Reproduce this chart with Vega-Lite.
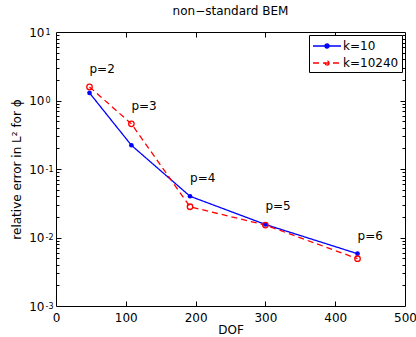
{
  "$schema": "https://vega.github.io/schema/vega-lite/v6.json",
  "width": 349,
  "height": 274,
  "autosize": {"type": "none"},
  "padding": {"left": 56, "top": 32, "right": 11, "bottom": 31},
  "background": "white",
  "config": {
    "font": "DejaVu Sans",
    "view": {"stroke": "black", "strokeWidth": 1},
    "axis": {"grid": false, "domain": false, "labelFont": "DejaVu Sans", "titleFont": "DejaVu Sans", "labelFontSize": 12, "titleFontSize": 12, "labelColor": "black", "titleColor": "black", "tickColor": "black", "titleFontWeight": "normal", "tickWidth": 1},
    "legend": {"orient": "top-right", "offset": 3, "strokeColor": "black", "fillColor": "white", "padding": 3, "labelFontSize": 12, "labelFont": "DejaVu Sans", "labelColor": "black", "symbolType": "M-1,0H3M1.3,0A0.3,0.3 0 1,1 0.7,0A0.3,0.3 0 1,1 1.3,0", "symbolSize": 196, "symbolStrokeWidth": 1.3, "labelOffset": 15, "rowPadding": 3, "cornerRadius": 0}
  },
  "title": {"text": "non−standard BEM", "fontSize": 12, "fontWeight": "normal", "font": "DejaVu Sans", "offset": 8, "color": "black"},
  "data": {"values": [
    {"k": "k=10", "p": "p=2", "DOF": 48, "err": 1.29},
    {"k": "k=10", "p": "p=3", "DOF": 108, "err": 0.222},
    {"k": "k=10", "p": "p=4", "DOF": 192, "err": 0.040},
    {"k": "k=10", "p": "p=5", "DOF": 300, "err": 0.0155},
    {"k": "k=10", "p": "p=6", "DOF": 432, "err": 0.0058},
    {"k": "k=10240", "p": "p=2", "DOF": 48, "err": 1.58},
    {"k": "k=10240", "p": "p=3", "DOF": 108, "err": 0.456},
    {"k": "k=10240", "p": "p=4", "DOF": 192, "err": 0.0281},
    {"k": "k=10240", "p": "p=5", "DOF": 300, "err": 0.0152},
    {"k": "k=10240", "p": "p=6", "DOF": 432, "err": 0.0049}
  ]},
  "layer": [
    {
      "mark": {"type": "line", "strokeWidth": 1.3},
      "encoding": {
        "x": {"field": "DOF", "type": "quantitative", "scale": {"type": "linear", "domain": [0, 500], "nice": false, "zero": false},
              "axis": {"orient": "bottom", "values": [0, 100, 200, 300, 400, 500], "ticks": false, "labelPadding": 6, "labelFlush": false, "title": "DOF", "titlePadding": 1}},
        "y": {"field": "err", "type": "quantitative", "scale": {"type": "log", "domain": [0.001, 10], "nice": false},
              "axis": {"orient": "left", "values": [0.001, 0.01, 0.1, 1, 10], "ticks": false, "labelExpr": "'10'", "labelAlign": "right", "labelBaseline": "middle", "labelPadding": 12, "labelFlush": false, "title": "relative error in L² for ϕ", "titlePadding": 5}},
        "color": {"field": "k", "type": "nominal", "scale": {"domain": ["k=10", "k=10240"], "range": ["#0000ff", "#ff0000"]},
                  "legend": {"title": null, "encode": {"symbols": {"update": {"fill": {"signal": "datum.value === 'k=10' ? '#0000ff' : 'transparent'"}}}}}},
        "strokeDash": {"field": "k", "type": "nominal", "scale": {"domain": ["k=10", "k=10240"], "range": [[1, 0], [6, 4]]}, "legend": {"title": null}}
      }
    },
    {
      "transform": [{"filter": "datum.k == 'k=10'"}],
      "mark": {"type": "point", "filled": true, "size": 22, "color": "#0000ff", "opacity": 1},
      "encoding": {
        "x": {"field": "DOF", "type": "quantitative", "axis": null},
        "y": {"field": "err", "type": "quantitative", "axis": null}
      }
    },
    {
      "transform": [{"filter": "datum.k == 'k=10240'"}],
      "mark": {"type": "point", "filled": false, "size": 30, "color": "#ff0000", "strokeWidth": 1.3, "opacity": 1},
      "encoding": {
        "x": {"field": "DOF", "type": "quantitative", "axis": null},
        "y": {"field": "err", "type": "quantitative", "axis": null}
      }
    },
    {
      "transform": [{"aggregate": [{"op": "max", "field": "err", "as": "top"}], "groupby": ["DOF", "p"]}],
      "mark": {"type": "text", "align": "left", "baseline": "middle", "dy": -18, "fontSize": 12, "font": "DejaVu Sans", "color": "black"},
      "encoding": {
        "x": {"field": "DOF", "type": "quantitative", "axis": null},
        "y": {"field": "top", "type": "quantitative", "axis": null},
        "text": {"field": "p"}
      }
    },
    {
      "mark": {"type": "point", "opacity": 0},
      "encoding": {
        "x": {"field": "DOF", "type": "quantitative", "axis": null},
        "y": {"field": "err", "type": "quantitative",
              "axis": {"orient": "left", "values": [0.001, 0.01, 0.1, 1, 10], "ticks": false, "labelExpr": "datum.value < 0.005 ? '-3' : datum.value < 0.05 ? '-2' : datum.value < 0.5 ? '-1' : datum.value < 5 ? '0' : '1'", "labelAlign": "left", "labelBaseline": "middle", "labelPadding": 11, "labelDy": -5, "labelFontSize": 8, "labelFlush": false, "title": null}}
      }
    },
    {
      "mark": {"type": "point", "opacity": 0},
      "encoding": {
        "x": {"field": "DOF", "type": "quantitative",
              "axis": {"orient": "bottom", "values": [100, 200, 300, 400], "labels": false, "tickSize": -5, "title": null}},
        "y": {"field": "err", "type": "quantitative",
              "axis": {"orient": "left", "values": [0.01, 0.1, 1], "labels": false, "tickSize": -5, "title": null}}
      }
    },
    {
      "mark": {"type": "point", "opacity": 0},
      "encoding": {
        "x": {"field": "DOF", "type": "quantitative",
              "axis": {"orient": "top", "values": [100, 200, 300, 400], "labels": false, "tickSize": -5, "title": null}},
        "y": {"field": "err", "type": "quantitative",
              "axis": {"orient": "right", "values": [0.01, 0.1, 1], "labels": false, "tickSize": -5, "title": null}}
      }
    },
    {
      "mark": {"type": "point", "opacity": 0},
      "encoding": {
        "x": {"field": "DOF", "type": "quantitative", "axis": null},
        "y": {"field": "err", "type": "quantitative",
              "axis": {"orient": "left", "values": [0.002, 0.003, 0.004, 0.005, 0.006, 0.007, 0.008, 0.009, 0.02, 0.03, 0.04, 0.05, 0.06, 0.07, 0.08, 0.09, 0.2, 0.3, 0.4, 0.5, 0.6, 0.7, 0.8, 0.9, 2, 3, 4, 5, 6, 7, 8, 9], "labels": false, "tickSize": -3, "title": null}}
      }
    },
    {
      "mark": {"type": "point", "opacity": 0},
      "encoding": {
        "x": {"field": "DOF", "type": "quantitative", "axis": null},
        "y": {"field": "err", "type": "quantitative",
              "axis": {"orient": "right", "values": [0.002, 0.003, 0.004, 0.005, 0.006, 0.007, 0.008, 0.009, 0.02, 0.03, 0.04, 0.05, 0.06, 0.07, 0.08, 0.09, 0.2, 0.3, 0.4, 0.5, 0.6, 0.7, 0.8, 0.9, 2, 3, 4, 5, 6, 7, 8, 9], "labels": false, "tickSize": -3, "title": null}}
      }
    }
  ],
  "resolve": {"scale": {"x": "shared", "y": "shared"}, "axis": {"x": "independent", "y": "independent"}}
}
